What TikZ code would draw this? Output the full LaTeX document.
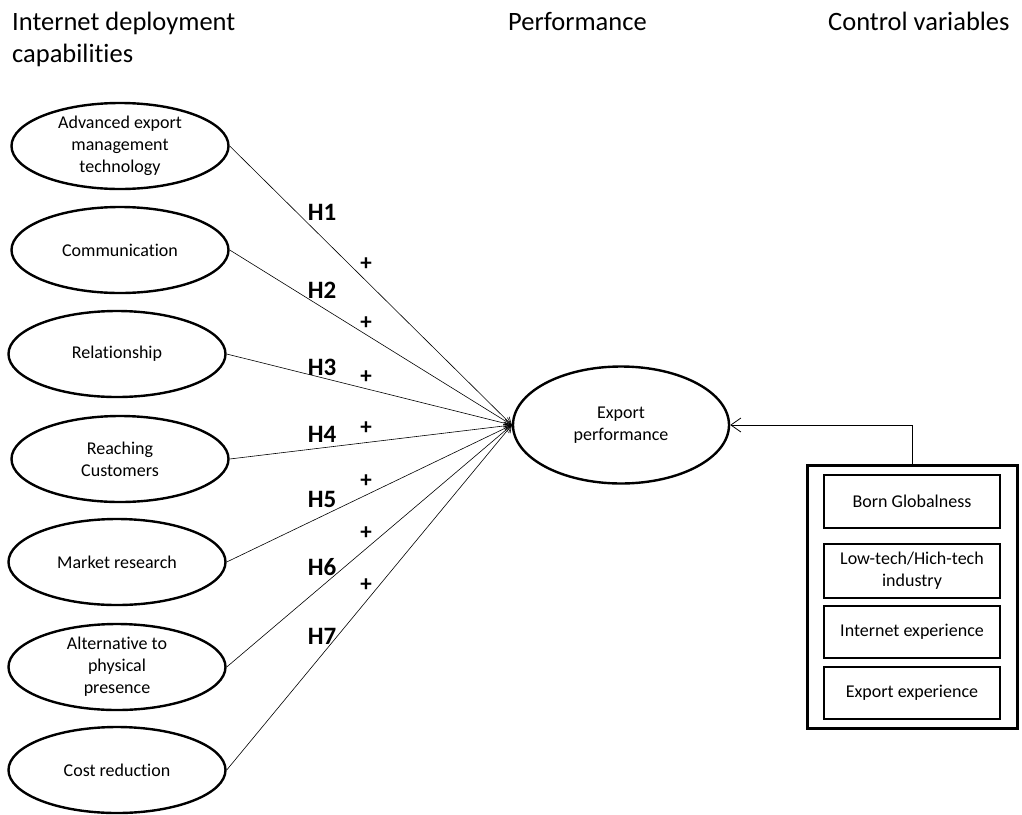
\documentclass[tikz,border=0pt]{standalone}
\usepackage{fontspec}
\setmainfont{Carlito}[Ligatures={NoCommon}]
\usetikzlibrary{shapes.geometric,arrows.meta}

\tikzset{
  construct/.style={ellipse, draw, line width=2.4pt, minimum width=217pt,
    minimum height=86pt, inner sep=0pt, align=center,
    font=\fontsize{18}{22}\selectfont},
  control/.style={rectangle, draw, line width=2.4pt, minimum width=176pt,
    inner sep=0pt, align=center, font=\fontsize{18}{22}\selectfont},
  heading/.style={anchor=base west, inner sep=0pt, align=left,
    font=\fontsize{26.5}{32}\selectfont},
  hyp/.style={inner sep=0pt, font=\fontsize{25}{28}\selectfont\bfseries},
  sign/.style={inner sep=0pt, font=\fontsize{23}{25}\selectfont\bfseries},
  path/.style={line width=0.6pt, -{Straight Barb[length=7pt,width=8pt]}},
}

\begin{document}
\begin{tikzpicture}[x=1pt, y=-1pt]
\useasboundingbox (0,0) rectangle (1022,814);

% column headings (base anchor of a two-line node sits on its last line)
\node[heading] (hcap) at (12,62) {Internet deployment\\capabilities};
\node[heading] (hperf) at (508,30) {Performance};
\node[heading] (hctrl) at (828,30) {Control variables};

% capability constructs
\node[construct] (c1) at (120,146) {Advanced export\\management\\technology};
\node[construct] (c2) at (120,250) {Communication};
\node[construct] (c3) at (117,354) {Relationship};
\node[construct] (c4) at (120,459) {Reaching\\Customers};
\node[construct] (c5) at (117,562) {Market research};
\node[construct] (c6) at (117,667) {Alternative to\\physical\\presence};
\node[construct] (c7) at (117,770) {Cost reduction};

% outcome
\node[construct, minimum width=216pt, minimum height=117pt] (ep) at (621,425) {Export\\performance};

% hypothesised paths
\foreach \i in {1,...,7} \draw[path] (c\i.east) -- (ep.west);

\node[hyp] (h1) at (322,212) {H1};
\node[hyp] (h2) at (322,290) {H2};
\node[hyp] (h3) at (322,367) {H3};
\node[hyp] (h4) at (322,434) {H4};
\node[hyp] (h5) at (322,499) {H5};
\node[hyp] (h6) at (322,567) {H6};
\node[hyp] (h7) at (322,636) {H7};

\node[sign] (p1) at (366,264) {+};
\node[sign] (p2) at (366,323) {+};
\node[sign] (p3) at (366,377) {+};
\node[sign] (p4) at (366,428) {+};
\node[sign] (p5) at (366,481) {+};
\node[sign] (p6) at (366,533) {+};
\node[sign] (p7) at (366,585) {+};

% control variables
\node[rectangle, draw, line width=3pt, minimum width=210pt, minimum height=263pt, inner sep=0pt] (ctrl) at (912,596.5) {};
\node[control, minimum height=53pt] (b1) at (912,501.5) {Born Globalness};
\node[control, minimum height=54pt] (b2) at (912,571) {Low-tech/Hich-tech\\industry};
\node[control, minimum height=52pt] (b3) at (912,632) {Internet experience};
\node[control, minimum height=52pt] (b4) at (912,693) {Export experience};

\draw[line width=0.8pt, -{Straight Barb[length=10pt,width=14pt]}] (ctrl.north) |- (ep.east);
\end{tikzpicture}
\end{document}
